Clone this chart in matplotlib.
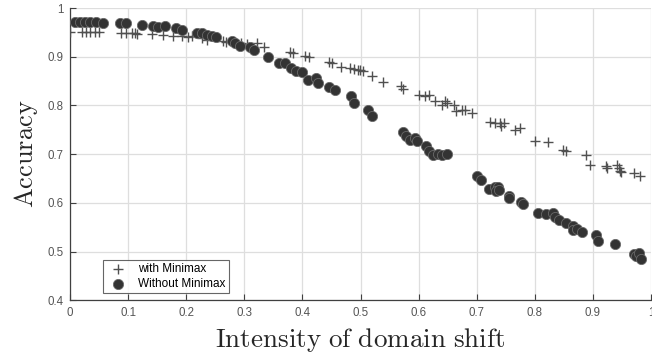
import matplotlib
matplotlib.use("Agg")
import matplotlib.pyplot as plt
import numpy as np

# Accuracy vs intensity of domain shift
with_x = [0.0, 0.020, 0.027, 0.035, 0.043, 0.050,
          0.088, 0.097, 0.106, 0.112, 0.116, 0.141, 0.160,
          0.178, 0.192, 0.203, 0.209, 0.227, 0.235, 0.264, 0.268,
          0.295, 0.304, 0.321, 0.333, 0.379, 0.384, 0.404, 0.412,
          0.445, 0.450, 0.467, 0.481, 0.488, 0.496, 0.499, 0.505,
          0.520, 0.539, 0.570, 0.573, 0.601, 0.611, 0.617, 0.628,
          0.640, 0.645, 0.649, 0.660, 0.665, 0.674, 0.680, 0.691,
          0.723, 0.731, 0.740, 0.741, 0.747, 0.766, 0.775, 0.800,
          0.822, 0.849, 0.854, 0.888, 0.895, 0.923, 0.925, 0.941,
          0.945, 0.949, 0.947, 0.970, 0.981]
with_y = [0.951, 0.951, 0.951, 0.951, 0.951, 0.951,
          0.948, 0.948, 0.948, 0.948, 0.947, 0.947, 0.945,
          0.943, 0.942, 0.940, 0.942, 0.938, 0.935, 0.933, 0.931,
          0.928, 0.926, 0.928, 0.921, 0.910, 0.908, 0.902, 0.899,
          0.890, 0.887, 0.878, 0.877, 0.875, 0.873, 0.872, 0.870,
          0.861, 0.849, 0.840, 0.834, 0.822, 0.820, 0.822, 0.809,
          0.801, 0.809, 0.805, 0.801, 0.788, 0.791, 0.791, 0.784,
          0.767, 0.764, 0.764, 0.758, 0.764, 0.749, 0.754, 0.728,
          0.725, 0.709, 0.706, 0.699, 0.677, 0.675, 0.671, 0.677,
          0.671, 0.664, 0.666, 0.661, 0.656]

without_x = [0.009, 0.017, 0.026, 0.034, 0.045, 0.057,
             0.086, 0.096, 0.123, 0.142, 0.152, 0.163, 0.183, 0.192,
             0.218, 0.227, 0.235, 0.244, 0.251, 0.278, 0.284, 0.293,
             0.310, 0.316, 0.341, 0.360, 0.370, 0.380, 0.389, 0.399,
             0.410, 0.423, 0.427, 0.446, 0.456, 0.483, 0.489,
             0.512, 0.520, 0.573, 0.579, 0.585, 0.594, 0.598,
             0.613, 0.618, 0.625, 0.634, 0.641, 0.648,
             0.701, 0.708, 0.721, 0.732, 0.737, 0.733, 0.739,
             0.756, 0.756, 0.777, 0.780,
             0.805, 0.819, 0.832, 0.834, 0.842, 0.854, 0.865, 0.865,
             0.872, 0.882, 0.905, 0.908, 0.938,
             0.970, 0.975, 0.979, 0.982]
without_y = [0.972, 0.972, 0.972, 0.972, 0.971, 0.970,
             0.969, 0.969, 0.966, 0.964, 0.962, 0.964, 0.959, 0.954,
             0.949, 0.949, 0.945, 0.942, 0.940, 0.933, 0.928, 0.923,
             0.919, 0.914, 0.899, 0.888, 0.887, 0.877, 0.870, 0.868,
             0.853, 0.856, 0.846, 0.838, 0.831, 0.820, 0.806,
             0.790, 0.779, 0.745, 0.738, 0.730, 0.733, 0.728,
             0.716, 0.706, 0.699, 0.701, 0.699, 0.701,
             0.656, 0.647, 0.629, 0.632, 0.632, 0.625, 0.627,
             0.615, 0.610, 0.603, 0.598,
             0.580, 0.577, 0.580, 0.571, 0.565, 0.559, 0.552, 0.545,
             0.546, 0.540, 0.535, 0.521, 0.515,
             0.4955, 0.4914, 0.498, 0.4846]

x_ticks = np.round(np.arange(0, 1.01, 0.1), 1)
y_ticks = np.round(np.arange(0.4, 1.01, 0.1), 1)
x_ticklabels = ["0", "0.1", "0.2", "0.3", "0.4", "0.5", "0.6", "0.7", "0.8", "0.9", "1"]
y_ticklabels = ["0.4", "0.5", "0.6", "0.7", "0.8", "0.9", "1"]

plt.rcParams["mathtext.fontset"] = "cm"

fig = plt.figure(figsize=(6.52, 3.56), dpi=100)
ax = fig.add_axes([0.1075, 0.156, 0.891, 0.8215])

ax.scatter(with_x, with_y, marker="+", s=60, linewidths=1.0,
           color="#505050", label="with Minimax", zorder=3)
ax.scatter(without_x, without_y, marker="o", s=54, linewidths=0.6,
           facecolor="#333333", edgecolor="#6a6a6a", label="Without Minimax",
           zorder=3)

ax.set_xlim(0, 1)
ax.set_ylim(0.4, 1)
ax.set_xticks(x_ticks)
ax.set_xticklabels(x_ticklabels)
ax.set_yticks(y_ticks)
ax.set_yticklabels(y_ticklabels)

ax.grid(True, color="#dedede", linewidth=0.9)
ax.set_axisbelow(True)
for side in ("top", "right"):
    ax.spines[side].set_visible(False)
for side in ("left", "bottom"):
    ax.spines[side].set_color("#404040")
    ax.spines[side].set_linewidth(0.9)

ax.tick_params(direction="in", length=4, width=0.8, color="#404040",
               labelsize=8.3, labelcolor="#555555")
ax.tick_params(axis="x", pad=5)
ax.tick_params(axis="y", pad=5)
for lab in ax.get_xticklabels() + ax.get_yticklabels():
    lab.set_family("Liberation Sans")

ax.set_xlabel(r"$\mathrm{Intensity\ of\ domain\ shift}$", fontsize=19.5,
              color="#262626", labelpad=5)
ax.set_ylabel(r"$\mathrm{Accuracy}$", fontsize=19, color="#262626",
              labelpad=5)

leg = ax.legend(loc="lower left", bbox_to_anchor=(0.056, 0.025),
                prop={"family": "Liberation Sans", "size": 8.5},
                frameon=True, fancybox=False, borderpad=0.3,
                handletextpad=0.7, labelspacing=0.2, handlelength=2.0,
                borderaxespad=0)
leg.get_frame().set_edgecolor("#404040")
leg.get_frame().set_linewidth(0.8)

fig.savefig("out.png", dpi=100)
